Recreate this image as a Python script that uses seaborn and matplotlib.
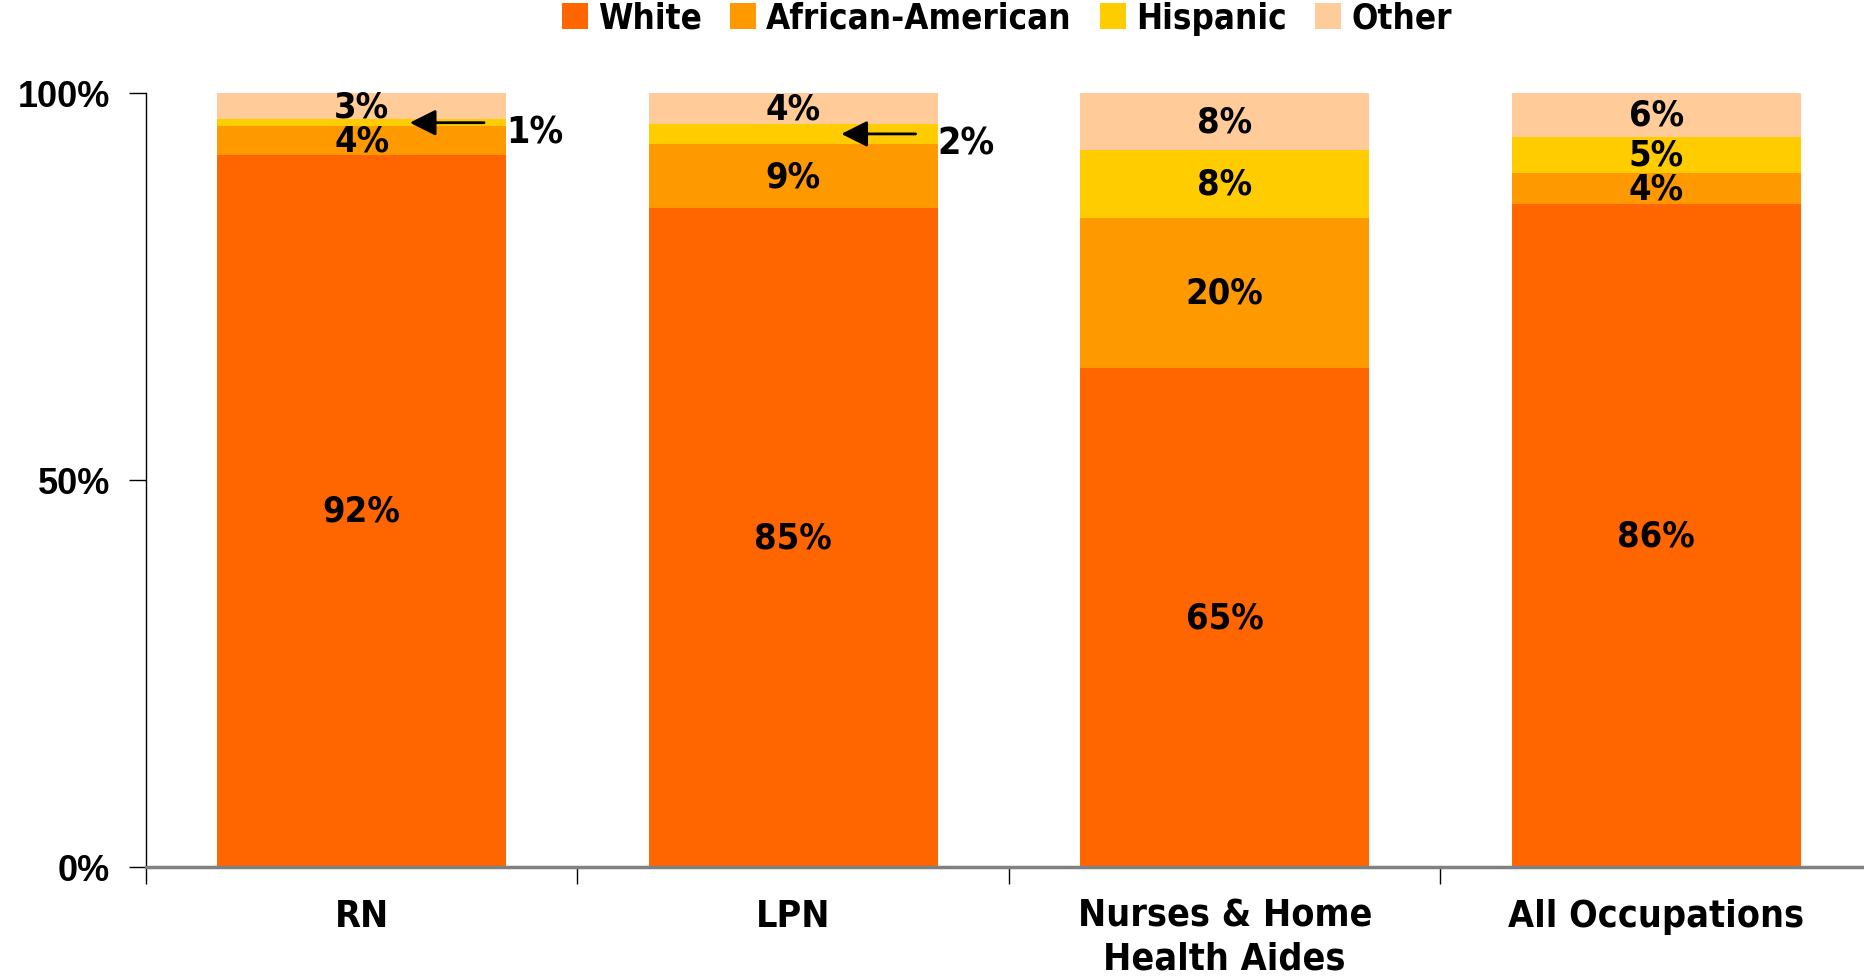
import pandas as pd
import matplotlib
matplotlib.use('Agg')
import matplotlib.pyplot as plt
from matplotlib.patches import Patch
import seaborn as sns

# values (percent of each occupation)
categories = ['RN', 'LPN', 'Nurses & Home\nHealth Aides', 'All Occupations']
groups = ['White', 'African-American', 'Hispanic', 'Other']
white = [92.0, 85.1, 64.5, 85.7]
african_american = [3.7, 8.3, 19.4, 4.0]
hispanic = [0.9, 2.6, 8.7, 4.6]
other = [3.4, 4.0, 7.4, 5.7]

# printed labels
white_lbl = ['92%', '85%', '65%', '86%']
aa_lbl = ['4%', '9%', '20%', '4%']
hisp_lbl = [None, None, '8%', '5%']
other_lbl = ['3%', '4%', '8%', '6%']
small_hisp_lbl = {0: '1%', 1: '2%'}

colors = ['#FF6600', '#FF9900', '#FFCC00', '#FFCC99']

sns.set_style('white')
plt.rcParams['font.family'] = ['Liberation Sans', 'DejaVu Sans']
plt.rcParams['font.weight'] = 'bold'
plt.rcParams['text.color'] = 'black'
plt.rcParams['xtick.labelcolor'] = 'black'
plt.rcParams['ytick.labelcolor'] = 'black'

narrow = dict(family='DejaVu Sans', stretch='condensed', weight='bold')

df = pd.DataFrame({'cat': categories, 'White': white,
                   'African-American': african_american,
                   'Hispanic': hispanic, 'Other': other})

fig = plt.figure(figsize=(18.64, 9.78), dpi=100)
ax = fig.add_axes([0.0783, 0.1125, 0.926, 0.7915])

# stacked bars: draw cumulative totals from the top down
cum = df[groups].cumsum(axis=1)
for g, c in reversed(list(zip(groups, colors))):
    sns.barplot(x=df['cat'], y=cum[g], color=c, width=0.67, ax=ax,
                saturation=1, linewidth=0, order=categories)

# segment labels
bottoms = [0, 0, 0, 0]
for vals, lbls in zip([white, african_american, hispanic, other],
                      [white_lbl, aa_lbl, hisp_lbl, other_lbl]):
    for i, (v, l) in enumerate(zip(vals, lbls)):
        if l:
            ax.text(i, bottoms[i] + v / 2, l, ha='center', va='center',
                    fontsize=26, **narrow)
        bottoms[i] += v

# arrows for the thin Hispanic slices
for i, l in small_hisp_lbl.items():
    y = white[i] + african_american[i] + hispanic[i] / 2
    ax.annotate('', xy=(i + 0.105, y), xytext=(i + 0.29, y),
                arrowprops=dict(arrowstyle='-|>', color='black', lw=2,
                                mutation_scale=40))
    ax.text(i + 0.4, y - 1.3, l, ha='center', va='center',
            fontsize=27, **narrow)

ax.set_xlim(-0.5, 3.5)
ax.set_ylim(0, 100)
ax.set_yticks([0, 50, 100])
ax.set_yticklabels(['0%', '50%', '100%'], fontsize=26, fontweight='bold',
                   family='Liberation Sans')
ax.set_xticks(range(4))
ax.set_xticklabels(categories, fontsize=27, linespacing=1.25, **narrow)
ax.set_xticks([-0.5, 0.5, 1.5, 2.5], minor=True)
ax.tick_params(axis='x', which='major', length=0, pad=22)
ax.tick_params(axis='x', which='minor', length=12, width=1, color='black',
               direction='out', bottom=True)
ax.tick_params(axis='y', length=12, width=1, color='black', direction='out',
               left=True, pad=14)
ax.set_xlabel('')
ax.set_ylabel('')

sns.despine(ax=ax, top=True, right=True)
ax.spines['left'].set_color('black')
ax.spines['left'].set_linewidth(1)
ax.spines['bottom'].set_color('#808080')
ax.spines['bottom'].set_linewidth(2.5)

handles = [Patch(facecolor=c, edgecolor='none', label=g) for g, c in zip(groups, colors)]
fig.legend(handles=handles, loc='upper center', bbox_to_anchor=(0.54, 1.03),
           ncol=4, frameon=False, handlelength=0.75, handleheight=0.75,
           handletextpad=0.3, columnspacing=0.8,
           prop=dict(size=25, **narrow))

fig.savefig('out.png', dpi=100)
